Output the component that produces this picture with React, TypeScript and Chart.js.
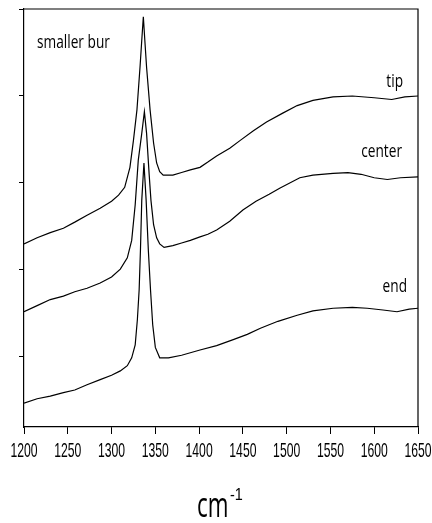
import React, { useEffect, useRef } from "react";
import { Chart, registerables } from "chart.js";

Chart.register(...registerables);

// Raman spectra (arbitrary intensity units, curves offset vertically)
const tipX = [1200, 1215, 1230, 1245, 1258, 1272, 1287, 1300, 1308, 1315, 1321, 1325, 1329, 1332.5, 1334.5, 1336.3, 1338, 1340, 1344, 1348, 1351.5, 1355, 1359, 1370, 1380, 1390, 1401, 1410, 1420, 1435, 1447, 1462, 1477, 1495, 1512, 1530, 1553, 1575, 1600, 1620, 1635, 1650];
const tipY = [2.30, 2.37, 2.43, 2.48, 2.55, 2.63, 2.71, 2.79, 2.86, 2.95, 3.18, 3.49, 3.84, 4.33, 4.64, 4.91, 4.64, 4.33, 3.84, 3.46, 3.23, 3.13, 3.09, 3.09, 3.12, 3.15, 3.18, 3.24, 3.31, 3.40, 3.49, 3.60, 3.70, 3.80, 3.89, 3.95, 3.99, 4.00, 3.98, 3.96, 3.99, 4.00];

const centerX = [1200, 1215, 1230, 1245, 1258, 1272, 1287, 1300, 1310, 1318, 1323, 1327, 1330.5, 1334.5, 1337.5, 1340, 1343, 1345, 1348, 1351.5, 1355, 1360, 1370, 1380, 1390, 1401, 1410, 1420, 1435, 1450, 1465, 1480, 1492, 1515, 1530, 1553, 1570, 1585, 1600, 1615, 1630, 1650];
const centerY = [1.52, 1.59, 1.66, 1.70, 1.75, 1.79, 1.85, 1.92, 2.01, 2.14, 2.34, 2.75, 3.26, 3.57, 3.82, 3.57, 3.09, 2.80, 2.52, 2.37, 2.30, 2.26, 2.28, 2.31, 2.34, 2.38, 2.41, 2.46, 2.56, 2.69, 2.79, 2.87, 2.94, 3.06, 3.09, 3.11, 3.12, 3.10, 3.06, 3.04, 3.06, 3.07];

const endX = [1200, 1215, 1230, 1245, 1258, 1272, 1287, 1300, 1310, 1318, 1323, 1327, 1329.5, 1331.5, 1333, 1334.5, 1337, 1339.5, 1342, 1344.5, 1347, 1350, 1355, 1365, 1380, 1401, 1420, 1439, 1455, 1470, 1490, 1512, 1530, 1553, 1575, 1592, 1610, 1626, 1640, 1650];
const endY = [0.47, 0.52, 0.55, 0.59, 0.62, 0.68, 0.74, 0.79, 0.84, 0.90, 0.99, 1.14, 1.43, 1.77, 2.23, 2.80, 3.23, 2.80, 2.23, 1.77, 1.37, 1.11, 0.99, 0.99, 1.02, 1.08, 1.13, 1.20, 1.26, 1.33, 1.41, 1.48, 1.53, 1.56, 1.57, 1.56, 1.54, 1.52, 1.55, 1.56];

const xTickValues = [1200, 1250, 1300, 1350, 1400, 1450, 1500, 1550, 1600, 1650];
const yTickValues = [1, 2, 3, 4, 5];
const X_MIN = 1200;
const X_MAX = 1650;
const Y_MIN = 0.195;
const Y_MAX = 5;

const seriesNames = ["tip", "center", "end"];
const panelTitle = "smaller bur";
const axisTitle = "cm";
const axisTitleSup = "-1";

function drawScaled(ctx: CanvasRenderingContext2D, text: string, x: number, y: number, font: string, sx: number, align: "left" | "center" | "right") {
  ctx.save();
  ctx.font = font;
  ctx.textBaseline = "alphabetic";
  ctx.textAlign = "left";
  const w = ctx.measureText(text).width * sx;
  const left = align === "center" ? x - w / 2 : align === "right" ? x - w : x;
  ctx.translate(left, y);
  ctx.scale(sx, 1);
  ctx.fillText(text, 0, 0);
  ctx.restore();
}

const decorPlugin = {
  id: "decor",
  afterDraw(chart: any) {
    const ctx: CanvasRenderingContext2D = chart.ctx;
    const a = chart.chartArea;
    ctx.save();
    ctx.strokeStyle = "#000";
    ctx.lineWidth = 1.2;
    ctx.beginPath();
    ctx.moveTo(a.left, a.top);
    ctx.lineTo(a.right, a.top);
    ctx.lineTo(a.right, a.bottom);
    ctx.stroke();
    ctx.fillStyle = "#000";

    const xs = chart.scales.x;
    for (const t of xs.ticks) {
      const px = xs.getPixelForValue(t.value);
      drawScaled(ctx, String(t.value), px, 457, "21px 'Liberation Sans'", 0.58, "center");
    }
    const labelFont = "19px 'Open Sans'";
    const lsx = 0.72;
    drawScaled(ctx, panelTitle, 37, 48, labelFont, lsx, "left");
    drawScaled(ctx, seriesNames[0], 403, 87, labelFont, lsx, "right");
    drawScaled(ctx, seriesNames[1], 402, 157, labelFont, lsx, "right");
    drawScaled(ctx, seriesNames[2], 407, 292, labelFont, lsx, "right");

    drawScaled(ctx, axisTitle, 197, 517, "35px 'Open Sans'", 0.64, "left");
    drawScaled(ctx, axisTitleSup, 230, 500, "17px 'Liberation Sans'", 0.85, "left");
    ctx.restore();
  },
};

export default function App() {
  const ref = useRef<HTMLCanvasElement | null>(null);
  useEffect(() => {
    if (!ref.current) return;
    const mk = (xs: number[], ys: number[]) => xs.map((x, i) => ({ x, y: ys[i] }));
    const ds = (label: string, data: any[]) => ({
      label,
      data,
      borderColor: "#000",
      borderWidth: 1.2,
      pointRadius: 0,
      tension: 0,
      fill: false,
    });
    const chart = new Chart(ref.current, {
      type: "line",
      data: {
        datasets: [
          ds(seriesNames[0], mk(tipX, tipY)),
          ds(seriesNames[1], mk(centerX, centerY)),
          ds(seriesNames[2], mk(endX, endY)),
        ],
      },
      options: {
        responsive: false,
        animation: false,
        devicePixelRatio: 1,
        layout: { padding: { left: 24, top: 9, right: 14, bottom: 96 } },
        plugins: { legend: { display: false }, tooltip: { enabled: false } },
        scales: {
          x: {
            type: "linear",
            min: X_MIN,
            max: X_MAX,
            afterBuildTicks: (s: any) => {
              s.ticks = xTickValues.map((v) => ({ value: v }));
            },
            afterFit: (s: any) => {
              s.height = 0;
            },
            ticks: { display: false },
            grid: { drawOnChartArea: false, drawTicks: true, tickLength: 7, color: "#000", lineWidth: 1 },
            border: { display: true, color: "#000", width: 1.2 },
          },
          y: {
            type: "linear",
            min: Y_MIN,
            max: Y_MAX,
            afterBuildTicks: (s: any) => {
              s.ticks = yTickValues.map((v) => ({ value: v }));
            },
            afterFit: (s: any) => {
              s.width = 0;
            },
            ticks: { display: false },
            grid: { drawOnChartArea: false, drawTicks: true, tickLength: 5, color: "#000", lineWidth: 1 },
            border: { display: true, color: "#000", width: 1.2 },
          },
        },
      } as any,
      plugins: [decorPlugin],
    });
    return () => chart.destroy();
  }, []);
  return (
    <div style={{ position: "absolute", left: 0, top: 0, width: 432, height: 523, background: "#fff" }}>
      <canvas ref={ref} width={432} height={523} />
    </div>
  );
}
